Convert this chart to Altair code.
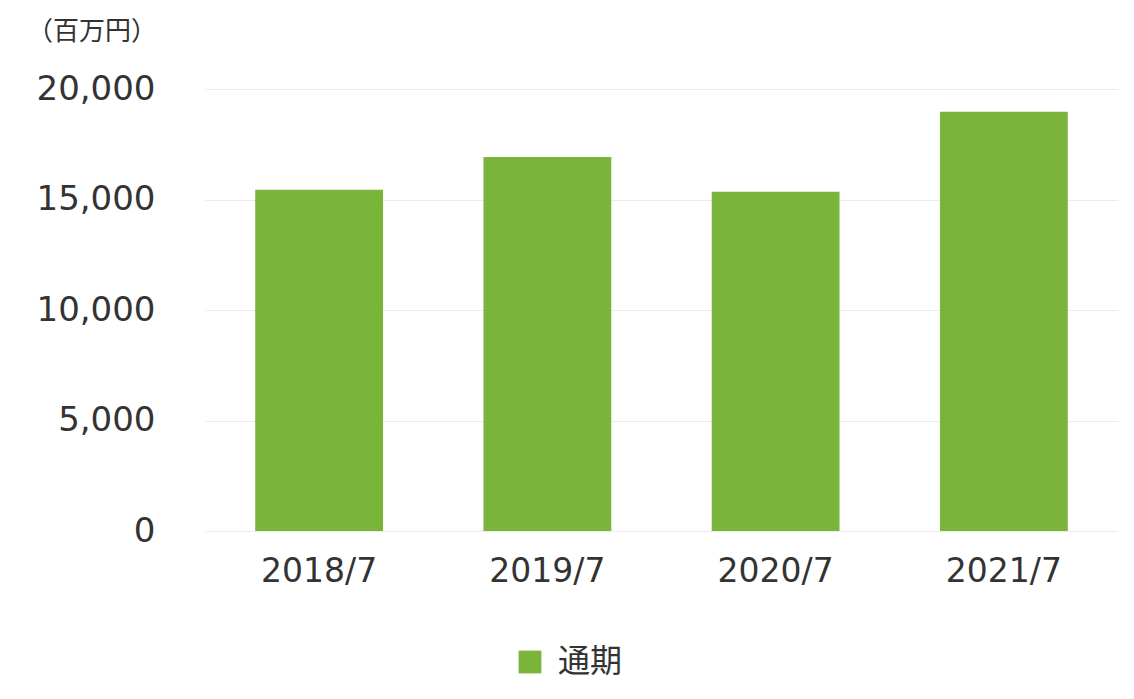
import altair as alt
import pandas as pd

periods = ["2018/7", "2019/7", "2020/7", "2021/7"]
values = [15440, 16920, 15350, 18970]
series = ["通期"] * 4
unit_label = "（百万円）"
y_ticks = [0, 5000, 10000, 15000, 20000]

df = pd.DataFrame({"period": periods, "value": values, "series": series})

num_font = "DejaVu Sans"
jp_font = "Noto Sans CJK JP"
text_color = "#333333"

chart = alt.Chart(df).mark_bar(color="#7bb43a").encode(
    x=alt.X("period:N", sort=periods,
            scale=alt.Scale(paddingInner=0.44, paddingOuter=0.22),
            axis=alt.Axis(title=None, labelAngle=0, labelFont=num_font, labelFontSize=33,
                          labelColor=text_color, labelPadding=24, ticks=False,
                          domain=False, grid=False)),
    y=alt.Y("value:Q", scale=alt.Scale(domain=[0, 20000], nice=False),
            axis=alt.Axis(title=None, values=y_ticks, format=",.0f", labelFont=num_font,
                          labelFontSize=34, labelColor=text_color, labelPadding=50,
                          ticks=False, domain=False, gridColor="#ebebeb", gridWidth=1)),
    color=alt.Color("series:N", scale=alt.Scale(range=["#7bb43a"]),
                    legend=alt.Legend(title=None, orient="none", legendX=309, legendY=557,
                                      symbolType="square", symbolSize=520,
                                      symbolStrokeWidth=0, labelFont=jp_font,
                                      labelFontSize=32, labelColor=text_color,
                                      labelOffset=12)),
).properties(
    width=913,
    height=442,
    padding={"left": 197, "top": 81, "right": 8, "bottom": 150},
    autosize=alt.AutoSizeParams(type="none"),
    background="white",
    title=alt.TitleParams(text=unit_label, anchor="start", frame="group", dx=-178,
                          offset=27, font=jp_font, fontSize=26, fontWeight="normal",
                          color=text_color),
).configure_view(strokeWidth=0)

chart.save("out.html", embed_options={"renderer": "svg", "actions": False})
